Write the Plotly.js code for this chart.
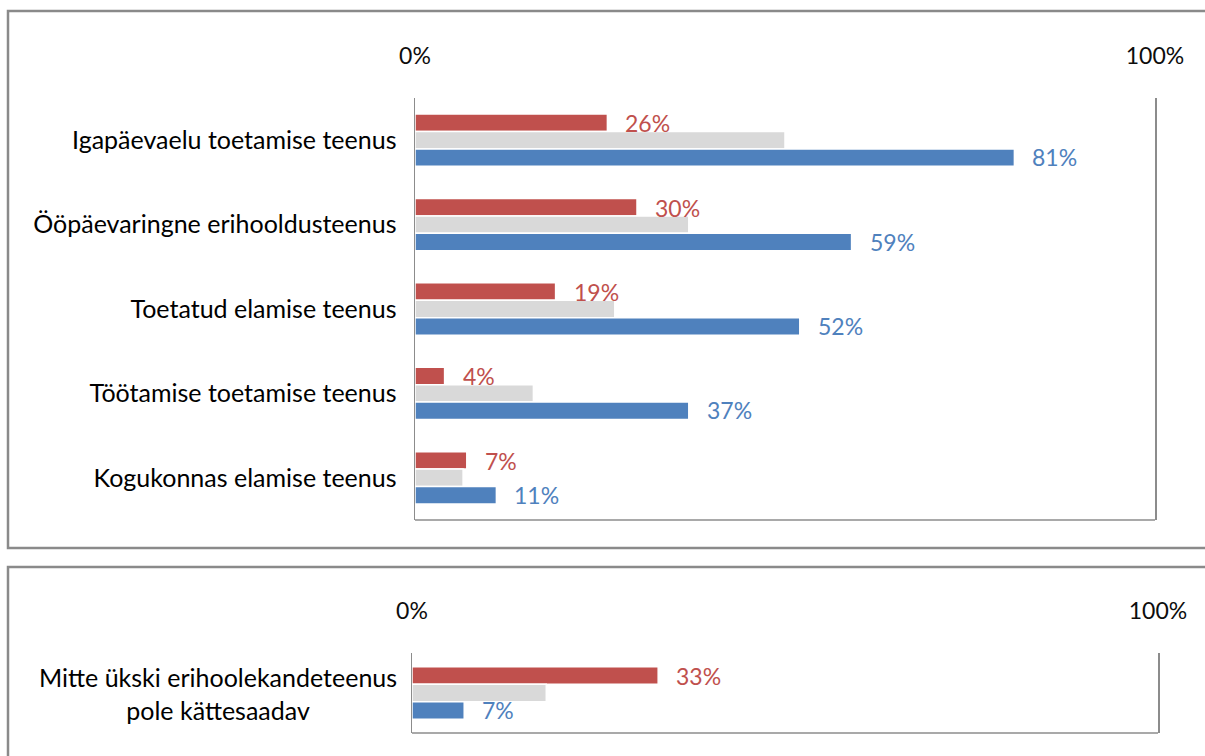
<!DOCTYPE html>
<html>
<head>
<meta charset="utf-8">
<script src="https://cdn.plot.ly/plotly-3.0.1.min.js"></script>
<style>html,body{margin:0;padding:0;background:#fff;}#chart{width:1205px;height:756px;}</style>
</head>
<body>
<div id="chart"></div>
<script>
// ---- data ----
const categoriesTop = ["Igapäevaelu toetamise teenus", "Ööpäevaringne erihooldusteenus", "Toetatud elamise teenus", "Töötamise toetamise teenus", "Kogukonnas elamise teenus"];
const redTop  = [26, 30, 19, 4, 7];
const grayTop = [50, 37, 27, 16, 6.5];
const blueTop = [81, 59, 52, 37, 11];

const categoriesBottom = ["Mitte ükski erihoolekandeteenus<br>pole kättesaadav"];
const redBottom  = [33];
const grayBottom = [18];
const blueBottom = [7];

const tickVals = [0, 100];
const tickText = ["0%", "100%"];

// ---- styling ----
const W = 1205, H = 756;
const RED = "#C0504D", GRAY = "#D9D9D9", BLUE = "#4F81BD";
const FONT = "Lato, 'Open Sans', sans-serif";
const FS = 25;
const LFS = 23;
const px = v => v / W;
const py = v => 1 - v / H;

function barTrace(x, y, color, xa, ya) {
  return {
    type: "bar", orientation: "h", x: x, y: y, xaxis: xa, yaxis: ya,
    marker: {color: color, line: {color: "#ffffff", width: 1.5}},
    hoverinfo: "skip", showlegend: false, textposition: "none"
  };
}

const data = [
  barTrace(redTop, categoriesTop, RED, "x", "y"),
  barTrace(grayTop, categoriesTop, GRAY, "x", "y"),
  barTrace(blueTop, categoriesTop, BLUE, "x", "y"),
  barTrace(redBottom, categoriesBottom, RED, "x2", "y2"),
  barTrace(grayBottom, categoriesBottom, GRAY, "x2", "y2"),
  barTrace(blueBottom, categoriesBottom, BLUE, "x2", "y2")
];

// value labels (drawn on top of all bars)
function labelAnns(vals, cats, color, xa, ya, yshift) {
  return vals.map((v, i) => ({
    xref: xa, yref: ya, x: v, y: cats[i], xanchor: "left", yanchor: "middle",
    xshift: 16, yshift: yshift, showarrow: false,
    text: Math.round(v) + "%", font: {family: FONT, size: LFS, color: color}
  }));
}

const annotations = [].concat(
  labelAnns(redTop, categoriesTop, RED, "x", "y", 17),
  labelAnns(blueTop, categoriesTop, BLUE, "x", "y", -17),
  labelAnns(redBottom, categoriesBottom, RED, "x2", "y2", 17),
  labelAnns(blueBottom, categoriesBottom, BLUE, "x2", "y2", -17),
  [{
    xref: "paper", yref: "y2", x: px(399), y: categoriesBottom[0], xanchor: "right", yanchor: "middle",
    text: categoriesBottom[0], showarrow: false, align: "center",
    font: {family: FONT, size: FS, color: "#000000"}
  }]
);

const xCommon = {
  range: [0, 100], side: "top", showgrid: false, zeroline: false, showline: false,
  ticks: "", tickvals: tickVals, ticktext: tickText, ticklabelstandoff: 28,
  tickfont: {family: FONT, size: LFS, color: "#0d0d0d"}, fixedrange: true
};

const layout = {
  width: W, height: H,
  margin: {l: 0, r: 0, t: 0, b: 0},
  paper_bgcolor: "#ffffff", plot_bgcolor: "#ffffff",
  barmode: "group", bargap: 0.38, bargroupgap: 0,
  xaxis: Object.assign({}, xCommon, {domain: [px(415), px(1155)], anchor: "y"}),
  xaxis2: Object.assign({}, xCommon, {domain: [px(412), px(1158)], anchor: "y2"}),
  yaxis: {
    domain: [py(520), py(98)], anchor: "x", type: "category", autorange: "reversed",
    showline: true, mirror: true, linecolor: "#8c8c8c", linewidth: 1.5,
    showgrid: false, zeroline: false, ticks: "", ticklabelstandoff: 12,
    tickfont: {family: FONT, size: FS, color: "#000000"}, fixedrange: true
  },
  yaxis2: {
    domain: [py(733), py(653)], anchor: "x2", type: "category", range: [0.474, -0.474],
    showline: true, mirror: true, linecolor: "#8c8c8c", linewidth: 1.5,
    showgrid: false, zeroline: false, ticks: "", showticklabels: false, fixedrange: true
  },
  annotations: annotations,
  shapes: [
    {type: "line", xref: "x domain", yref: "y domain", x0: 0, x1: 1, y0: 0, y1: 0, line: {color: "#8c8c8c", width: 1.5}},
    {type: "line", xref: "x2 domain", yref: "y2 domain", x0: 0, x1: 1, y0: 0, y1: 0, line: {color: "#8c8c8c", width: 1.5}},
    {type: "rect", xref: "paper", yref: "paper", x0: px(8), x1: px(1215), y0: py(548), y1: py(11), line: {color: "#8a8a8a", width: 2.5}, fillcolor: "rgba(0,0,0,0)"},
    {type: "rect", xref: "paper", yref: "paper", x0: px(8), x1: px(1215), y0: py(770), y1: py(567), line: {color: "#8a8a8a", width: 2.5}, fillcolor: "rgba(0,0,0,0)"}
  ]
};

Plotly.newPlot("chart", data, layout, {displayModeBar: false, staticPlot: true});
</script>
</body>
</html>
